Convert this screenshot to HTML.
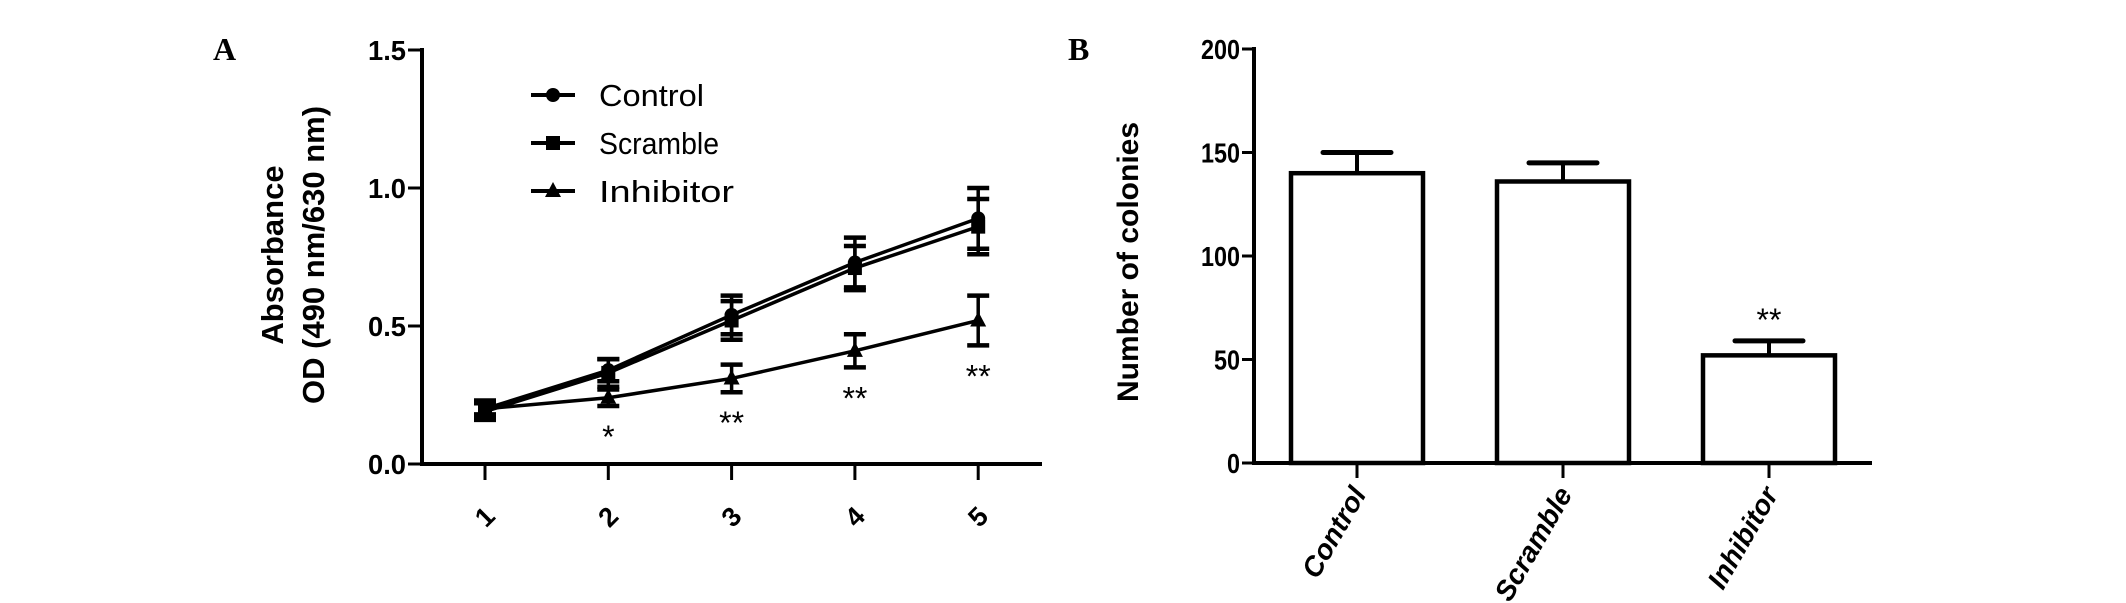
<!DOCTYPE html>
<html><head><meta charset="utf-8"><style>
html,body{margin:0;padding:0;background:#fff;width:2126px;height:603px;overflow:hidden}
svg{display:block}
text{font-family:"Liberation Sans",Arial,sans-serif;fill:#000}
</style></head><body>
<svg id="chart" width="2126" height="603" viewBox="0 0 2126 603" xmlns="http://www.w3.org/2000/svg">
<text x="213" y="60" font-weight="bold" font-size="32" style="font-family:'Liberation Serif',serif">A</text>
<text x="1068" y="60" font-weight="bold" font-size="32" style="font-family:'Liberation Serif',serif">B</text>
<g id="panelA"></g>
<g id="panelB"></g>
</svg>
<script>
const days = ["1","2","3","4","5"];
const controlVals = [0.20,0.34,0.54,0.73,0.89];
const controlErr = [0.03,0.04,0.07,0.09,0.11];
const scrambleVals = [0.19,0.33,0.52,0.71,0.86];
const scrambleErr = [0.03,0.05,0.07,0.08,0.10];
const inhibitorVals = [0.20,0.24,0.31,0.41,0.52];
const inhibitorErr = [0.02,0.03,0.05,0.06,0.09];
const inhibitorSig = ["","*","**","**","**"];
const aTicks = [0,0.5,1.0,1.5];
const aTickLabels = ["0.0","0.5","1.0","1.5"];
const groups = ["Control","Scramble","Inhibitor"];
const colonyVals = [140,136,52];
const colonyErr = [10,9,7];
const colonySig = ["","","**"];
const bTicks = [0,50,100,150,200];

const NS="http://www.w3.org/2000/svg";
function mk(parent,tag,attrs,txt){const e=document.createElementNS(NS,tag);for(const k in attrs)e.setAttribute(k,attrs[k]);if(txt!==undefined)e.textContent=txt;parent.appendChild(e);return e;}

// Panel A
const A=document.getElementById('panelA');
const ay=v=>464-v/1.5*414;
const ax=i=>485+i*123.3;
let e;
e=mk(A,'line',{x1:422,y1:48,x2:422,y2:466,stroke:'#000','stroke-width':4});


e=mk(A,'line',{x1:420,y1:464,x2:1042,y2:464,stroke:'#000','stroke-width':4});


aTicks.forEach((t,i)=>{
  mk(A,'line',{x1:408,y1:ay(t),x2:422,y2:ay(t),stroke:'#000','stroke-width':3});
  e=mk(A,'text',{x:406,y:ay(t)+10,'text-anchor':'end','font-size':28,'font-weight':'bold',textLength:38,lengthAdjust:'spacingAndGlyphs'},aTickLabels[i]);
  
  
});
days.forEach((d,i)=>{
  mk(A,'line',{x1:ax(i),y1:464,x2:ax(i),y2:480,stroke:'#000','stroke-width':3});
  e=mk(A,'text',{x:0,y:0,'text-anchor':'middle','font-size':27,'font-weight':'bold',transform:`translate(${ax(i)},${517}) rotate(-45) translate(0,9)`},d);
  
  
});
e=mk(A,'text',{x:0,y:0,'text-anchor':'middle','font-size':31,'font-weight':'bold',transform:'translate(283,255) rotate(-90)'},'Absorbance');


e=mk(A,'text',{x:0,y:0,'text-anchor':'middle','font-size':31,'font-weight':'bold',transform:'translate(324,255) rotate(-90)'},'OD (490 nm/630 nm)');



function marker(g,type,x,y){
  if(type==='circle') return mk(g,'circle',{cx:x,cy:y,r:7,fill:'#000'});
  if(type==='square') return mk(g,'rect',{x:x-7,y:y-7,width:14,height:14,fill:'#000'});
  return mk(g,'polygon',{points:`${x},${y-9} ${x-8},${y+6} ${x+8},${y+6}`,fill:'#000'});
}
const series=[[controlVals,controlErr,'circle','control'],[scrambleVals,scrambleErr,'square','scramble'],[inhibitorVals,inhibitorErr,'triangle','inhibitor']];
series.forEach(([vals,errs,type,name])=>{
  const g=mk(A,'g',{});
  
  
  mk(g,'polyline',{points:vals.map((v,i)=>ax(i)+','+ay(v)).join(' '),fill:'none',stroke:'#000','stroke-width':3.5});
  vals.forEach((v,i)=>{
    const x=ax(i),t=ay(v+errs[i]),b=ay(v-errs[i]);
    mk(g,'line',{x1:x,y1:t,x2:x,y2:b,stroke:'#000','stroke-width':3.5});
    mk(g,'line',{x1:x-11,y1:t,x2:x+11,y2:t,stroke:'#000','stroke-width':4.5});
    mk(g,'line',{x1:x-11,y1:b,x2:x+11,y2:b,stroke:'#000','stroke-width':4.5});
    const m=marker(g,type,x,ay(v));
    
    
  });
});
inhibitorSig.forEach((s,i)=>{
  if(!s)return;
  e=mk(A,'text',{x:ax(i),y:ay(inhibitorVals[i]-inhibitorErr[i])+42,'text-anchor':'middle','font-size':32},s);
  
  
});
const legNames=["Control","Scramble","Inhibitor"],legTypes=['circle','square','triangle'];
legNames.forEach((n,i)=>{
  const y=95+i*48;
  const g=mk(A,'g',{});
  
  
  mk(g,'line',{x1:531,y1:y,x2:575,y2:y,stroke:'#000','stroke-width':4});
  marker(g,legTypes[i],553,y);
  mk(g,'text',{x:599,y:y+11,'font-size':31,textLength:n.length*15,lengthAdjust:'spacingAndGlyphs'},n);
});

// Panel B
const B=document.getElementById('panelB');
const by=v=>463-v/200*414;
const bx=i=>1357+i*206;
e=mk(B,'line',{x1:1254,y1:47,x2:1254,y2:465,stroke:'#000','stroke-width':4});


e=mk(B,'line',{x1:1252,y1:463,x2:1872,y2:463,stroke:'#000','stroke-width':4});


bTicks.forEach(t=>{
  mk(B,'line',{x1:1242,y1:by(t),x2:1254,y2:by(t),stroke:'#000','stroke-width':3});
  e=mk(B,'text',{x:1240,y:by(t)+10,'text-anchor':'end','font-size':28,'font-weight':'bold',textLength:String(t).length*13,lengthAdjust:'spacingAndGlyphs'},String(t));
  
  
});
e=mk(B,'text',{x:0,y:0,'text-anchor':'middle','font-size':30,'font-weight':'bold',transform:'translate(1138,262) rotate(-90)'},'Number of colonies');


groups.forEach((gname,i)=>{
  const x=bx(i),v=colonyVals[i];
  const g=mk(B,'g',{});
  
  
  mk(g,'rect',{x:x-66,y:by(v),width:132,height:463-by(v),fill:'#fff',stroke:'#000','stroke-width':4.5});
  const t=by(v+colonyErr[i]);
  mk(g,'line',{x1:x,y1:t,x2:x,y2:by(v),stroke:'#000','stroke-width':4});
  mk(g,'line',{x1:x-34,y1:t,x2:x+34,y2:t,stroke:'#000','stroke-width':5,'stroke-linecap':'round'});
  mk(B,'line',{x1:x,y1:463,x2:x,y2:478,stroke:'#000','stroke-width':3});
  e=mk(B,'text',{x:0,y:0,'text-anchor':'end','font-size':28,'font-weight':'bold','font-style':'italic',transform:`translate(${x+10},${494}) rotate(-60)`},gname);
  
  
  if(colonySig[i]){
    e=mk(B,'text',{x:x,y:t-10,'text-anchor':'middle','font-size':32},colonySig[i]);
    
    
  }
});
</script>
</body></html>
